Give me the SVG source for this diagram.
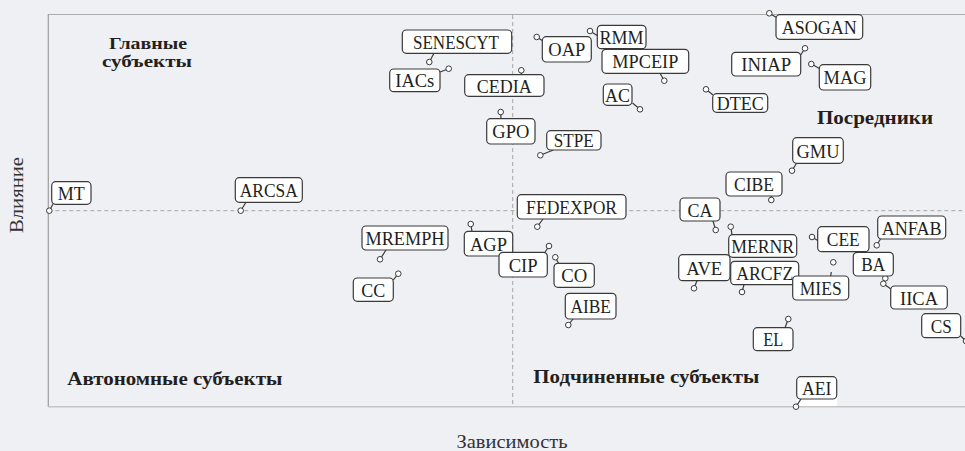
<svg xmlns="http://www.w3.org/2000/svg" width="965" height="451" viewBox="0 0 965 451">
<style>
.bg{fill:#eff0f4}
.lbl rect{fill:#fff;stroke:#3a3a3a;stroke-width:1.2}
.lbl text{font-family:"Liberation Serif","DejaVu Serif",serif;font-size:19px;fill:#231f20;text-anchor:middle}
.lbl circle{fill:#fff;stroke:#3a3a3a;stroke-width:1}
#connectors line{stroke:#3a3a3a;stroke-width:1.2}
.q{font-family:"Liberation Serif","DejaVu Serif",serif;font-size:19px;font-weight:bold;fill:#231f20}
.ax{font-family:"Liberation Serif","DejaVu Serif",serif;font-size:19px;fill:#333}
.dash{stroke:#a6a6a6;stroke-width:1;stroke-dasharray:4 3;fill:none}
</style>
<rect class="bg" x="0" y="0" width="965" height="451"/>
<g id="frame">
<line x1="48.3" y1="14.5" x2="965" y2="14.5" stroke="#acacac" stroke-width="1.2"/>
<line x1="48.3" y1="14" x2="48.3" y2="407" stroke="#9c9c9c" stroke-width="1.2"/>
<line x1="48" y1="406.7" x2="965" y2="406.7" stroke="#c6c6c6" stroke-width="1.6"/>
<line class="dash" x1="48.3" y1="210.7" x2="965" y2="210.7"/>
<line class="dash" x1="512.7" y1="15" x2="512.7" y2="406"/>
</g>
<g id="quadrant-labels">
<text class="q" x="148" y="48.5" text-anchor="middle" style="font-size:17px" textLength="78" lengthAdjust="spacingAndGlyphs">Главные</text>
<text class="q" x="147" y="67" text-anchor="middle" style="font-size:17px" textLength="90" lengthAdjust="spacingAndGlyphs">субъекты</text>
<text class="q" x="817" y="124" textLength="116" lengthAdjust="spacingAndGlyphs">Посредники</text>
<text class="q" x="67.3" y="384.5" textLength="215" lengthAdjust="spacingAndGlyphs">Автономные субъекты</text>
<text class="q" x="533.3" y="382.5" textLength="226" lengthAdjust="spacingAndGlyphs">Подчиненные субъекты</text>
</g>
<g id="axis-labels">
<text class="ax" x="512" y="447.5" text-anchor="middle" textLength="111" lengthAdjust="spacingAndGlyphs">Зависимость</text>
<text class="ax" transform="translate(23,195) rotate(-90)" x="0" y="0" text-anchor="middle" textLength="76" lengthAdjust="spacingAndGlyphs">Влияние</text>
</g>
<rect x="797" y="398" width="40" height="8" fill="#fff"/>
<g id="connectors">
<line x1="49.3" y1="210.7" x2="53" y2="204"/>
<line x1="240.7" y1="210.7" x2="246" y2="202.3"/>
<line x1="429.3" y1="62" x2="434" y2="53.3"/>
<line x1="448.7" y1="68.7" x2="440" y2="72"/>
<line x1="521.3" y1="70.3" x2="521.3" y2="74.7"/>
<line x1="536.7" y1="37" x2="543" y2="41"/>
<line x1="590" y1="31" x2="598" y2="36"/>
<line x1="664.3" y1="80.7" x2="660" y2="73.3"/>
<line x1="640" y1="109.3" x2="632.5" y2="103"/>
<line x1="706" y1="89.3" x2="713" y2="95"/>
<line x1="769.3" y1="13.3" x2="776.5" y2="17.5"/>
<line x1="805" y1="48.3" x2="800.7" y2="55"/>
<line x1="811.3" y1="64" x2="819.5" y2="68.5"/>
<line x1="792" y1="170.7" x2="796.5" y2="163.3"/>
<line x1="771.3" y1="200" x2="771.3" y2="196"/>
<line x1="715.7" y1="230" x2="713" y2="221"/>
<line x1="500.7" y1="112" x2="501" y2="118.7"/>
<line x1="540.3" y1="155.3" x2="553.3" y2="150"/>
<line x1="537.3" y1="226.7" x2="543" y2="219"/>
<line x1="380" y1="259.3" x2="386" y2="250"/>
<line x1="470.7" y1="224" x2="472" y2="231.3"/>
<line x1="549" y1="246" x2="545" y2="252.3"/>
<line x1="555.3" y1="257.3" x2="558.5" y2="263.3"/>
<line x1="398.3" y1="273.7" x2="393.3" y2="280"/>
<line x1="568.3" y1="325" x2="573" y2="319"/>
<line x1="730.7" y1="226.7" x2="732" y2="234.7"/>
<line x1="694" y1="288.3" x2="697" y2="280.7"/>
<line x1="742" y1="292" x2="744" y2="284.7"/>
<line x1="830.7" y1="276" x2="831.3" y2="272"/>
<line x1="812" y1="237" x2="817.7" y2="240.5"/>
<line x1="876.7" y1="245.3" x2="880.5" y2="239"/>
<line x1="885.3" y1="278.3" x2="884" y2="276"/>
<line x1="883.3" y1="283.7" x2="891" y2="289"/>
<line x1="966" y1="341" x2="960.7" y2="336"/>
<line x1="788.3" y1="319" x2="785" y2="327.7"/>
<line x1="796" y1="406.7" x2="801" y2="399"/>
</g>
<g id="MT" class="lbl"><circle cx="49.3" cy="210.7" r="2.8"/><rect x="51.7" y="181.7" width="39.3" height="22.6" rx="4"/><text x="71.3" y="200" textLength="27" lengthAdjust="spacingAndGlyphs">MT</text></g>
<g id="ARCSA" class="lbl"><circle cx="240.7" cy="210.7" r="2.8"/><rect x="235.3" y="177.7" width="67" height="24.6" rx="4"/><text x="268.8" y="197" textLength="58" lengthAdjust="spacingAndGlyphs">ARCSA</text></g>
<g id="SENESCYT" class="lbl"><circle cx="429.3" cy="62" r="2.8"/><rect x="402.3" y="30" width="109.4" height="23.3" rx="4"/><text x="456" y="48.7" textLength="86" lengthAdjust="spacingAndGlyphs">SENESCYT</text></g>
<g id="IACs" class="lbl"><circle cx="448.7" cy="68.7" r="2.8"/><rect x="389.7" y="69" width="50.3" height="22.7" rx="4"/><text x="414.8" y="87.3" textLength="39" lengthAdjust="spacingAndGlyphs">IACs</text></g>
<g id="CEDIA" class="lbl"><circle cx="521.3" cy="70.3" r="2.8"/><rect x="464.7" y="74.7" width="79.3" height="21.6" rx="4"/><text x="504.3" y="92.5" textLength="55" lengthAdjust="spacingAndGlyphs">CEDIA</text></g>
<g id="OAP" class="lbl"><circle cx="536.7" cy="37" r="2.8"/><rect x="542.3" y="36.7" width="49" height="25.3" rx="4"/><text x="566.8" y="56.3" textLength="37" lengthAdjust="spacingAndGlyphs">OAP</text></g>
<g id="RMM" class="lbl"><circle cx="590" cy="31" r="2.8"/><rect x="597.3" y="25.3" width="48.7" height="23.4" rx="4"/><text x="621.6" y="44" textLength="44" lengthAdjust="spacingAndGlyphs">RMM</text></g>
<g id="MPCEIP" class="lbl"><circle cx="664.3" cy="80.7" r="2.8"/><rect x="602" y="49.3" width="86.7" height="24" rx="4"/><text x="645.3" y="68.3" textLength="66" lengthAdjust="spacingAndGlyphs">MPCEIP</text></g>
<g id="AC" class="lbl"><circle cx="640" cy="109.3" r="2.8"/><rect x="603.3" y="84" width="28.7" height="21.3" rx="4"/><text x="617.6" y="101.6" textLength="25" lengthAdjust="spacingAndGlyphs">AC</text></g>
<g id="DTEC" class="lbl"><circle cx="706" cy="89.3" r="2.8"/><rect x="712.7" y="93.7" width="55" height="18.6" rx="4"/><text x="740.2" y="109.5" textLength="47" lengthAdjust="spacingAndGlyphs">DTEC</text></g>
<g id="ASOGAN" class="lbl"><circle cx="769.3" cy="13.3" r="2.8"/><rect x="776" y="14.7" width="86.7" height="24.6" rx="4"/><text x="819.3" y="34" textLength="75" lengthAdjust="spacingAndGlyphs">ASOGAN</text></g>
<g id="INIAP" class="lbl"><circle cx="805" cy="48.3" r="2.8"/><rect x="731.7" y="52.3" width="69" height="23.7" rx="4"/><text x="766.2" y="71.2" textLength="50" lengthAdjust="spacingAndGlyphs">INIAP</text></g>
<g id="MAG" class="lbl"><circle cx="811.3" cy="64" r="2.8"/><rect x="819.3" y="64.7" width="51.4" height="25.3" rx="4"/><text x="845" y="84.3" textLength="43" lengthAdjust="spacingAndGlyphs">MAG</text></g>
<g id="GMU" class="lbl"><circle cx="792" cy="170.7" r="2.8"/><rect x="792.7" y="137.7" width="50.6" height="25.6" rx="4"/><text x="818" y="157.5" textLength="43" lengthAdjust="spacingAndGlyphs">GMU</text></g>
<g id="CIBE" class="lbl"><circle cx="771.3" cy="200" r="2.8"/><rect x="726" y="172" width="56" height="24" rx="4"/><text x="754" y="191" textLength="40" lengthAdjust="spacingAndGlyphs">CIBE</text></g>
<g id="CA" class="lbl"><circle cx="715.7" cy="230" r="2.8"/><rect x="680" y="198" width="40" height="23" rx="4"/><text x="700" y="216.5" textLength="25" lengthAdjust="spacingAndGlyphs">CA</text></g>
<g id="GPO" class="lbl"><circle cx="500.7" cy="112" r="2.8"/><rect x="486.7" y="118.7" width="48.3" height="25.3" rx="4"/><text x="510.8" y="138.3" textLength="37" lengthAdjust="spacingAndGlyphs">GPO</text></g>
<g id="STPE" class="lbl"><circle cx="540.3" cy="155.3" r="2.8"/><rect x="546.7" y="130.7" width="54.3" height="19.3" rx="4"/><text x="573.8" y="147.3" textLength="40" lengthAdjust="spacingAndGlyphs">STPE</text></g>
<g id="FEDEXPOR" class="lbl"><circle cx="537.3" cy="226.7" r="2.8"/><rect x="517.3" y="194.7" width="108.7" height="24.3" rx="4"/><text x="571.6" y="214" textLength="91" lengthAdjust="spacingAndGlyphs">FEDEXPOR</text></g>
<g id="MREMPH" class="lbl"><circle cx="380" cy="259.3" r="2.8"/><rect x="362" y="226" width="86" height="24" rx="4"/><text x="405" y="245" textLength="79" lengthAdjust="spacingAndGlyphs">MREMPH</text></g>
<g id="AGP" class="lbl"><circle cx="470.7" cy="224" r="2.8"/><rect x="464.3" y="231.3" width="48.4" height="24.7" rx="4"/><text x="488.5" y="250.6" textLength="37" lengthAdjust="spacingAndGlyphs">AGP</text></g>
<g id="CIP" class="lbl"><circle cx="549" cy="246" r="2.8"/><rect x="499" y="252.3" width="48.3" height="24.7" rx="4"/><text x="523.2" y="271.6" textLength="29" lengthAdjust="spacingAndGlyphs">CIP</text></g>
<g id="CO" class="lbl"><circle cx="555.3" cy="257.3" r="2.8"/><rect x="554" y="263.3" width="40.3" height="24" rx="4"/><text x="574.2" y="282.3" textLength="26" lengthAdjust="spacingAndGlyphs">CO</text></g>
<g id="CC" class="lbl"><circle cx="398.3" cy="273.7" r="2.8"/><rect x="353.3" y="278" width="40" height="23.3" rx="4"/><text x="373.3" y="296.7" textLength="24" lengthAdjust="spacingAndGlyphs">CC</text></g>
<g id="AIBE" class="lbl"><circle cx="568.3" cy="325" r="2.8"/><rect x="565.3" y="293.3" width="50.7" height="25.7" rx="4"/><text x="590.7" y="313.2" textLength="40.5" lengthAdjust="spacingAndGlyphs">AIBE</text></g>
<g id="MERNR" class="lbl"><circle cx="730.7" cy="226.7" r="2.8"/><rect x="728.7" y="234.7" width="68" height="22.6" rx="4"/><text x="762.7" y="253" textLength="63" lengthAdjust="spacingAndGlyphs">MERNR</text></g>
<g id="AVE" class="lbl"><circle cx="694" cy="288.3" r="2.8"/><rect x="678.7" y="254.7" width="51.3" height="26" rx="4"/><text x="704.3" y="274.7" textLength="36" lengthAdjust="spacingAndGlyphs">AVE</text></g>
<g id="ARCFZ" class="lbl"><circle cx="742" cy="292" r="2.8"/><rect x="730.7" y="261.3" width="68" height="23.4" rx="4"/><text x="764.7" y="280" textLength="57" lengthAdjust="spacingAndGlyphs">ARCFZ</text></g>
<g id="MIES" class="lbl"><circle cx="833.3" cy="262.3" r="2.8"/><rect x="792.7" y="276" width="56" height="24" rx="4"/><text x="820.7" y="295" textLength="42" lengthAdjust="spacingAndGlyphs">MIES</text></g>
<g id="CEE" class="lbl"><circle cx="812" cy="237" r="2.8"/><rect x="817.7" y="226.7" width="51.3" height="25" rx="4"/><text x="843.3" y="246.2" textLength="33" lengthAdjust="spacingAndGlyphs">CEE</text></g>
<g id="ANFAB" class="lbl"><circle cx="876.7" cy="245.3" r="2.8"/><rect x="877.7" y="216" width="68" height="23" rx="4"/><text x="911.7" y="234.5" textLength="60" lengthAdjust="spacingAndGlyphs">ANFAB</text></g>
<g id="BA" class="lbl"><circle cx="885.3" cy="278.3" r="2.8"/><rect x="853.3" y="252.3" width="40" height="23.7" rx="4"/><text x="873.3" y="271.2" textLength="24" lengthAdjust="spacingAndGlyphs">BA</text></g>
<g id="IICA" class="lbl"><circle cx="883.3" cy="283.7" r="2.8"/><rect x="890.7" y="286" width="56.6" height="23" rx="4"/><text x="919" y="304.5" textLength="38" lengthAdjust="spacingAndGlyphs">IICA</text></g>
<g id="CS" class="lbl"><circle cx="966" cy="341" r="2.8"/><rect x="921.7" y="313.7" width="39" height="24" rx="4"/><text x="941.2" y="332.7" textLength="21" lengthAdjust="spacingAndGlyphs">CS</text></g>
<g id="EL" class="lbl"><circle cx="788.3" cy="319" r="2.8"/><rect x="753.3" y="327.7" width="39.7" height="23" rx="4"/><text x="773.2" y="346.2" textLength="20" lengthAdjust="spacingAndGlyphs">EL</text></g>
<g id="AEI" class="lbl"><circle cx="796" cy="406.7" r="2.8"/><rect x="796.7" y="376.7" width="40" height="22.3" rx="4"/><text x="816.7" y="394.8" textLength="29.5" lengthAdjust="spacingAndGlyphs">AEI</text></g>
</svg>
